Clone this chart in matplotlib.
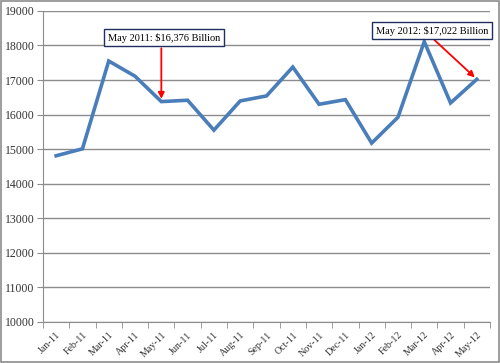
import matplotlib.pyplot as plt
import numpy as np
from matplotlib.patches import Rectangle

months = ['Jan-11', 'Feb-11', 'Mar-11', 'Apr-11', 'May-11', 'Jun-11', 'Jul-11',
          'Aug-11', 'Sep-11', 'Oct-11', 'Nov-11', 'Dec-11', 'Jan-12', 'Feb-12',
          'Mar-12', 'Apr-12', 'May-12']
values = [14808, 15010, 17550, 17110, 16376, 16415, 15550, 16395, 16540,
          17375, 16298, 16433, 15175, 15923, 18110, 16337, 17022]
yticks = list(range(10000, 19001, 1000))

plt.rcParams['font.family'] = ['Liberation Serif', 'DejaVu Serif']

fig = plt.figure(figsize=(5, 3.63), dpi=100)
ax = fig.add_axes([0.086, 0.113, 0.894, 0.857])
fig.patches.append(Rectangle((0.002, 0.003), 0.996, 0.994, transform=fig.transFigure,
                             fill=False, edgecolor='#8c8c8c', lw=1.2))

x = np.arange(len(months))
ax.plot(x, values, color='#4a7ebb', lw=2.6, solid_joinstyle='miter', zorder=3)

ax.set_xlim(-0.5, len(months) - 0.5)
ax.set_ylim(10000, 19000)
ax.set_yticks(yticks)
ax.set_yticklabels([str(v) for v in yticks], fontsize=8.5, color='#333333')
ax.set_xticks(x)
ax.set_xticklabels(months, rotation=45, ha='right', rotation_mode='anchor',
                   fontsize=7.2, color='#333333')
ax.set_xticks(np.arange(-0.5, len(months)), minor=True)
ax.tick_params(axis='x', which='major', length=0, pad=6)
ax.tick_params(axis='x', which='minor', length=4, color='#8c8c8c', direction='out')
ax.tick_params(axis='y', length=4, color='#8c8c8c', pad=2)
ax.grid(axis='y', color='#8c8c8c', lw=1)
ax.set_axisbelow(True)
for s in ['top', 'right']:
    ax.spines[s].set_visible(False)
for s in ['left', 'bottom']:
    ax.spines[s].set_color('#8c8c8c')

box = dict(boxstyle='square,pad=0.35', fc='white', ec='#1f2f5f', lw=1)
arrow = dict(arrowstyle='-|>', color='#ff0000', lw=1.3, mutation_scale=9)

ax.text(4.1, 18230, 'May 2011: $16,376 Billion', ha='center', va='center',
        fontsize=7.5, bbox=box, zorder=5)
ax.annotate('', xy=(4, values[4]), xytext=(4, 18000), arrowprops=arrow, zorder=4)

ax.text(14.3, 18430, 'May 2012: $17,022 Billion', ha='center', va='center',
        fontsize=7.5, bbox=box, zorder=5)
ax.annotate('', xy=(16, values[16]), xytext=(14.3, 18220), arrowprops=arrow, zorder=4)

fig.savefig('out.png', dpi=100)
